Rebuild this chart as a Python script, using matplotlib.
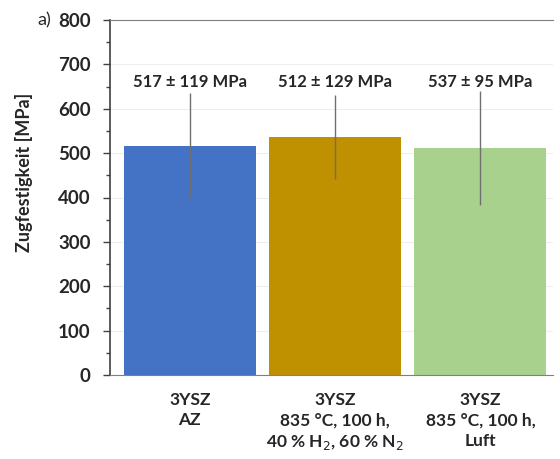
import numpy as np
import matplotlib.pyplot as plt
from matplotlib.ticker import MultipleLocator

plt.rcParams['font.family'] = ['Lato', 'DejaVu Sans']

# Zugfestigkeit der 3YSZ-Proben
categories = ['3YSZ\nAZ',
              '3YSZ\n835 °C, 100 h,\n40 % H$_2$, 60 % N$_2$',
              '3YSZ\n835 °C, 100 h,\nLuft']
means = [517, 537, 512]
errors = [119, 95, 129]
# Beschriftungen über den Balken
label_means = [517, 512, 537]
label_errors = [119, 129, 95]
colors = ['#4472C4', '#BF9000', '#A9D18E']

fig = plt.figure(figsize=(5.6, 4.59), dpi=100)
ax = fig.add_axes([110 / 560, 1 - 375 / 459, 443 / 560, 355 / 459])

x = np.arange(len(categories))
ax.bar(x, means, width=0.91, color=colors, zorder=2)
ax.errorbar(x, means, yerr=errors, fmt='none', ecolor='#707070',
            elinewidth=1.0, capsize=0, zorder=3)

for xi, m, e in zip(x, label_means, label_errors):
    ax.text(xi, 660, f'{m} ± {e} MPa', ha='center', va='center',
            fontsize=12, fontweight='bold', color='#262626')

ax.set_xlim(-0.55, 2.5)
ax.set_ylim(0, 800)
ax.yaxis.set_major_locator(MultipleLocator(100))
ax.yaxis.set_minor_locator(MultipleLocator(50))
ax.grid(axis='y', color='#eeeeee', linewidth=0.8, zorder=0)

ax.set_xticks(x)
ax.set_xticklabels(categories, fontsize=12.5, fontweight='bold',
                   color='#262626', linespacing=1.35)
ax.tick_params(axis='x', length=0, pad=12)
ax.tick_params(axis='y', which='major', length=5, width=1.0,
               color='#404040', labelsize=13.5, pad=9)
ax.tick_params(axis='y', which='minor', length=3, width=1.0, color='#404040')
for lab in ax.get_yticklabels():
    lab.set_fontweight('bold')
    lab.set_color('#262626')

ax.set_ylabel('Zugfestigkeit [MPa]', fontsize=13, fontweight='bold',
              color='#262626')
ax.yaxis.set_label_coords(-(110 - 33) / 443, 0.57)

ax.spines['left'].set_color('#404040')
ax.spines['left'].set_linewidth(1.2)
ax.spines['bottom'].set_color('#808080')
ax.spines['top'].set_color('#808080')
ax.spines['right'].set_visible(False)

fig.text(44 / 560, 1 - 20 / 459, 'a)', ha='center', va='center',
         fontsize=13, color='#262626')

fig.savefig('out.png', dpi=100)
